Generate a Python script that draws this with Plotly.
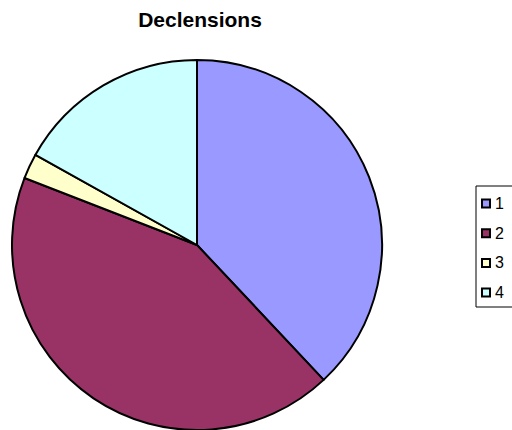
import plotly.graph_objects as go

categories = ["1", "2", "3", "4"]
values = [38.0, 42.9, 2.2, 16.9]
colors = ["#9999FF", "#993366", "#FFFFCC", "#CCFFFF"]
title_text = "Declensions"

W, H = 512, 430
ML, MR, MT, MB = 10, 128, 60, 0
PW, PH = W - ML - MR, H - MT - MB


def px_x(x):
    return (x - ML) / PW


def px_y(y):
    return (H - MB - y) / PH


fig = go.Figure(go.Pie(
    labels=categories,
    values=values,
    sort=False,
    direction="clockwise",
    rotation=0,
    marker=dict(colors=colors, line=dict(color="black", width=2)),
    textinfo="none",
    showlegend=False,
))

shapes = [dict(type="rect", xref="paper", yref="paper",
               x0=px_x(476), x1=px_x(530), y0=px_y(307), y1=px_y(186),
               line=dict(color="black", width=1), fillcolor="rgba(0,0,0,0)")]
annotations = []
for i, (lab, col) in enumerate(zip(categories, colors)):
    cy = 203.5 + 29.7 * i
    shapes.append(dict(type="rect", xref="paper", yref="paper",
                       x0=px_x(482), x1=px_x(490), y0=px_y(cy + 4), y1=px_y(cy - 4),
                       line=dict(color="black", width=2), fillcolor=col))
    annotations.append(dict(text=lab, xref="paper", yref="paper",
                            x=px_x(493), y=px_y(cy), xanchor="left", yanchor="middle",
                            showarrow=False,
                            font=dict(family="Liberation Sans, Arial", size=16, color="black")))

fig.update_layout(
    width=W, height=H,
    margin=dict(l=ML, r=MR, t=MT, b=MB),
    paper_bgcolor="white", plot_bgcolor="white",
    title=dict(text="<b>" + title_text + "</b>", x=px_x(200), xref="paper", xanchor="center",
               y=1 - 20 / H, yref="container", yanchor="middle",
               font=dict(family="Liberation Sans, Arial", size=21, color="black")),
    shapes=shapes,
    annotations=annotations,
)

fig.write_html("out.html", config={"displayModeBar": False},
               post_script="document.body.style.margin='0';document.body.style.overflow='hidden';")
